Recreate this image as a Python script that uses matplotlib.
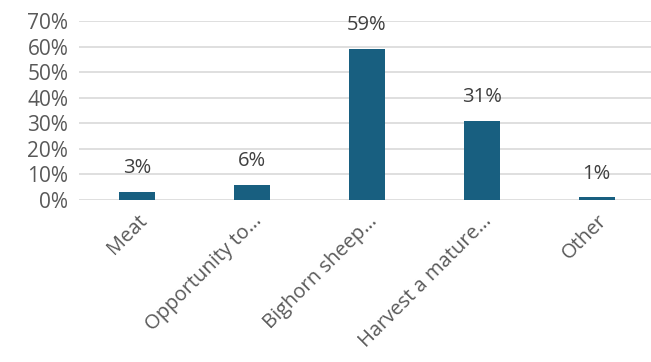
import matplotlib.pyplot as plt
from matplotlib.ticker import PercentFormatter

categories = ['Meat', 'Opportunity to…', 'Bighorn sheep…', 'Harvest a mature…', 'Other']
shares = [0.03, 0.06, 0.59, 0.31, 0.01]
y_ticks = [0.0, 0.1, 0.2, 0.3, 0.4, 0.5, 0.6, 0.7]

plt.rcParams['font.family'] = ['Open Sans', 'DejaVu Sans']

fig = plt.figure(figsize=(6.51, 3.62), dpi=100)
ax = fig.add_axes([0.122, 0.4475, 0.883, 0.4945])

x = range(len(categories))
bars = ax.bar(x, shares, width=0.31, color='#185f80', zorder=3)

# value labels above each bar
for b, v in zip(bars, shares):
    ax.annotate(f'{v:.0%}', (b.get_x() + b.get_width() / 2, v),
                xytext=(0, 10), textcoords='offset points',
                ha='center', va='bottom', fontsize=14.5, color='#404040')

ax.set_xlim(-0.5, len(categories) - 0.5)
ax.set_ylim(0, 0.7)
ax.set_yticks(y_ticks)
ax.yaxis.set_major_formatter(PercentFormatter(1.0, decimals=0))
ax.grid(axis='y', color='#d9d9d9', linewidth=1.2, zorder=0)

ax.set_xticks(list(x))
ax.set_xticklabels(categories, rotation=45, ha='right', rotation_mode='anchor')
ax.tick_params(axis='both', length=0, labelcolor='#595959')
ax.tick_params(axis='x', pad=8, labelsize=14.5)
ax.tick_params(axis='y', pad=8, labelsize=15)

for s in ax.spines.values():
    s.set_visible(False)

fig.savefig('out.png', dpi=100)
